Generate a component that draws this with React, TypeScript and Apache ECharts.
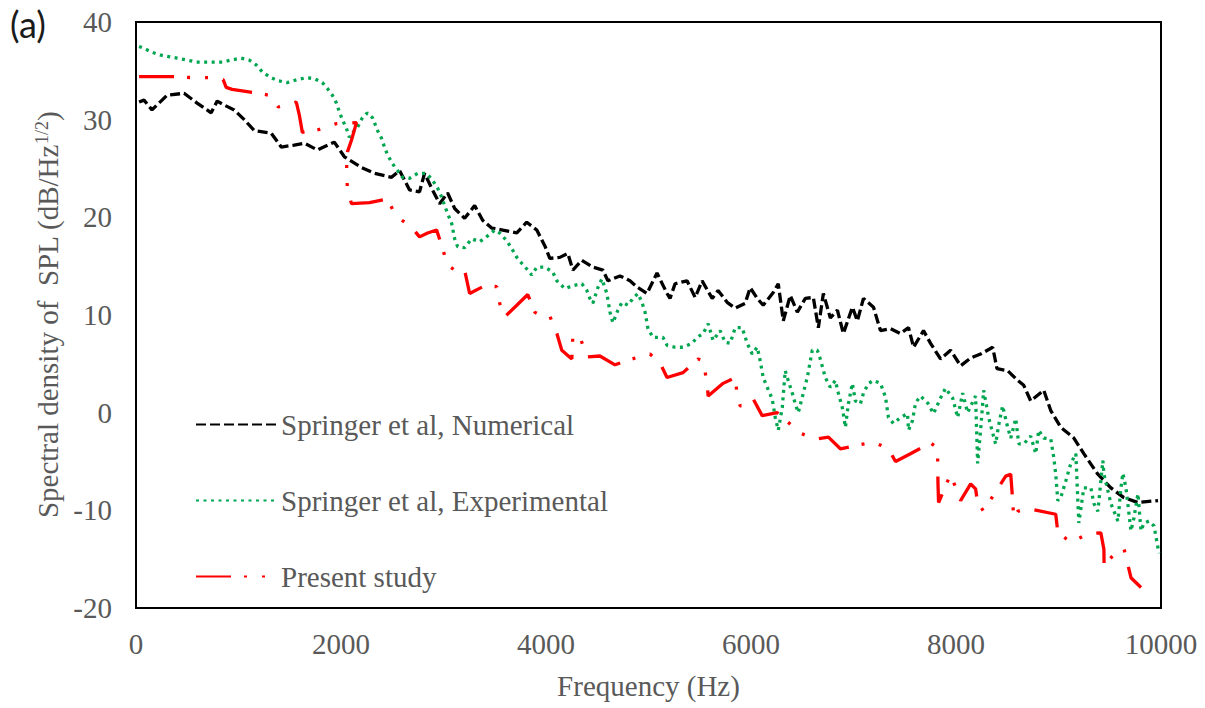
import React, { useEffect, useRef } from "react";
import * as echarts from "echarts";

// Frequency (Hz), SPL spectral density (dB/Hz^1/2)
const numerical: [number, number][] = [
  [30, 31.8], [78, 32.0], [156, 31.0], [303, 32.5], [469, 32.7], [596, 31.7], [733, 30.7], [792, 31.9],
  [860, 31.5], [958, 31.0], [1056, 30.0], [1153, 28.9], [1320, 28.6], [1417, 27.2], [1544, 27.4],
  [1642, 27.6], [1769, 26.9], [1935, 27.7], [2033, 26.2], [2199, 25.1], [2326, 24.5], [2493, 24.1],
  [2571, 24.8], [2669, 22.8], [2766, 22.6], [2815, 24.5], [2893, 22.8], [2962, 21.4], [3040, 22.5],
  [3109, 20.9], [3206, 19.9], [3304, 21.2], [3382, 19.7], [3470, 18.9], [3578, 18.7], [3715, 18.4],
  [3812, 19.5], [3910, 18.7], [3988, 17.1], [4037, 15.8], [4135, 15.9], [4213, 16.3], [4262, 14.6],
  [4350, 15.6], [4457, 14.9], [4555, 14.6], [4604, 13.5], [4721, 14.0], [4819, 13.5], [4897, 12.8],
  [4985, 12.2], [5083, 14.3], [5181, 12.2], [5210, 11.7], [5259, 13.2], [5376, 13.5], [5455, 11.8],
  [5523, 13.5], [5621, 11.7], [5679, 12.5], [5767, 11.3], [5846, 10.7], [5943, 11.2], [5992, 12.8],
  [6061, 11.7], [6119, 11.0], [6217, 12.3], [6266, 13.2], [6315, 9.4], [6383, 12.0], [6452, 10.3],
  [6530, 11.7], [6608, 11.8], [6657, 8.7], [6706, 12.2], [6774, 9.7], [6843, 10.5], [6901, 8.1],
  [6989, 10.8], [7038, 9.4], [7097, 11.7], [7195, 10.8], [7263, 8.4], [7361, 8.6], [7458, 8.1],
  [7537, 8.7], [7586, 6.7], [7683, 8.4], [7752, 7.1], [7849, 5.5], [7947, 6.4], [8045, 4.8],
  [8143, 5.6], [8240, 6.0], [8358, 6.7], [8400, 4.5], [8504, 4.3], [8602, 3.3], [8661, 2.8],
  [8729, 1.2], [8856, 2.3], [8925, 0.2], [9022, -1.5], [9150, -2.6], [9247, -4.2], [9384, -6.3],
  [9511, -7.7], [9638, -8.7], [9775, -9.2], [9971, -9.0],
];

const experimental: [number, number][] = [
  [30, 37.5], [78, 37.3], [156, 36.9], [244, 36.6], [342, 36.4], [401, 36.3], [499, 36.1], [587, 35.9],
  [665, 35.9], [762, 35.9], [841, 35.9], [929, 36.1], [1026, 36.3], [1105, 36.1], [1173, 35.6],
  [1232, 34.9], [1300, 34.4], [1378, 34.0], [1476, 33.8], [1574, 34.1], [1662, 34.3], [1740, 34.2],
  [1818, 33.8], [1867, 33.2], [1916, 32.5], [1955, 31.7], [1984, 30.8], [2014, 30.0], [2053, 29.1],
  [2082, 28.2], [2131, 28.9], [2160, 29.2], [2209, 30.2], [2258, 30.7], [2307, 30.2], [2356, 28.9],
  [2395, 28.1], [2424, 27.2], [2454, 26.4], [2502, 25.5], [2551, 24.8], [2600, 24.1], [2669, 24.0],
  [2747, 24.5], [2835, 24.5], [2893, 23.8], [2942, 23.0], [2981, 22.1], [3011, 21.2], [3040, 20.4],
  [3079, 19.4], [3109, 17.8], [3138, 17.0], [3206, 16.9], [3275, 17.8], [3353, 17.5], [3431, 18.1],
  [3500, 18.7], [3548, 18.4], [3617, 17.6], [3666, 16.8], [3715, 15.9], [3763, 15.3], [3822, 14.6],
  [3861, 14.1], [3910, 14.9], [3988, 14.9], [4066, 14.4], [4106, 13.5], [4184, 12.7], [4262, 13.0],
  [4350, 13.2], [4399, 12.5], [4428, 11.7], [4457, 11.2], [4506, 12.8], [4545, 13.7], [4594, 12.2],
  [4624, 10.3], [4653, 9.2], [4702, 10.5], [4741, 11.3], [4800, 11.0], [4848, 11.7], [4897, 12.2],
  [4936, 11.3], [4966, 10.3], [4995, 8.6], [5044, 7.7], [5142, 7.7], [5181, 6.9], [5259, 6.7],
  [5337, 6.7], [5425, 7.1], [5474, 7.7], [5533, 8.1], [5582, 9.1], [5630, 7.4], [5699, 8.4],
  [5748, 7.2], [5797, 7.1], [5846, 8.7], [5914, 8.7], [5963, 7.1], [6012, 6.0], [6061, 6.7],
  [6090, 5.3], [6119, 3.6], [6158, 2.6], [6207, 1.4], [6237, -0.5], [6266, -1.8], [6305, 0.5],
  [6334, 4.3], [6354, 3.6], [6403, 2.0], [6432, 0.9], [6461, 0.0], [6510, 2.0], [6549, 3.6],
  [6598, 6.4], [6647, 6.4], [6676, 5.5], [6725, 3.6], [6774, 2.6], [6823, 3.3], [6852, 2.0],
  [6891, 0.5], [6921, -1.5], [6950, 0.9], [6989, 3.0], [7018, 1.2], [7067, 0.9], [7097, 2.0],
  [7146, 3.0], [7195, 3.3], [7263, 3.0], [7312, 1.6], [7341, -0.5], [7390, -1.1], [7458, -0.5],
  [7527, -0.1], [7537, -1.8], [7576, -0.8], [7605, 1.0], [7654, 1.7], [7723, 1.0], [7781, -0.1],
  [7849, 1.5], [7898, 2.5], [7967, 1.5], [8016, -0.5], [8065, 2.0], [8113, 0.0], [8191, 1.7],
  [8211, -5.2], [8240, -1.8], [8270, 2.3], [8289, 1.2], [8319, -0.5], [8358, -2.1], [8387, -3.2],
  [8416, -1.3], [8455, 0.7], [8504, -1.5], [8534, -2.6], [8583, -0.6], [8612, -3.2], [8661, -3.2],
  [8729, -2.4], [8778, -4.2], [8807, -1.8], [8856, -2.6], [8925, -2.7], [8954, -4.6], [8973, -6.3],
  [8993, -9.0], [9022, -8.7], [9071, -7.0], [9120, -5.2], [9169, -4.2], [9198, -11.3], [9247, -7.7],
  [9316, -7.7], [9345, -9.3], [9384, -10.1], [9433, -4.9], [9443, -6.3], [9482, -8.0], [9511, -9.3],
  [9580, -11.1], [9609, -7.7], [9628, -6.2], [9658, -7.7], [9707, -12.1], [9736, -10.8], [9775, -8.3],
  [9805, -12.1], [9834, -11.3], [9883, -11.1], [9932, -11.6], [9980, -14.4],
];

const present: [number, number][] = [
  [30, 34.4], [401, 34.4], [557, 34.3], [723, 34.3], [850, 34.1], [880, 33.3], [938, 33.1],
  [1134, 32.8], [1300, 32.5], [1388, 31.3], [1564, 31.8], [1593, 30.5], [1623, 28.7], [1789, 29.0],
  [1955, 29.6], [2151, 29.7], [2102, 27.9], [2063, 26.7], [2053, 24.7], [2063, 22.9], [2102, 21.4],
  [2278, 21.5], [2454, 21.9], [2522, 20.4], [2581, 19.8], [2688, 19.0], [2766, 18.0], [2845, 18.4],
  [2933, 18.7], [2991, 16.8], [3040, 15.1], [3138, 14.4], [3206, 14.6], [3255, 12.2], [3402, 13.0],
  [3519, 12.9], [3548, 11.2], [3597, 9.8], [3715, 11.0], [3822, 12.1], [3890, 10.3], [3969, 9.8],
  [4037, 9.9], [4106, 8.1], [4154, 6.4], [4252, 5.5], [4262, 7.9], [4330, 7.8], [4399, 5.7],
  [4526, 5.8], [4673, 4.9], [4839, 5.5], [5015, 6.0], [5112, 5.1], [5181, 3.6], [5337, 4.1],
  [5484, 5.5], [5533, 5.3], [5572, 3.0], [5582, 1.7], [5728, 3.0], [5846, 3.6], [5865, 1.8],
  [5894, 0.7], [5943, 0.7], [6022, 1.4], [6109, -0.3], [6256, 0.0], [6481, -2.1], [6628, -2.7],
  [6755, -2.5], [6872, -3.7], [7195, -3.0], [7341, -3.7], [7410, -5.0], [7556, -4.2], [7752, -3.1],
  [7820, -3.6], [7824, -7.2], [7830, -9.2], [7947, -6.3], [8045, -9.0], [8143, -7.3], [8191, -7.8],
  [8211, -9.2], [8270, -10.1], [8368, -8.4], [8485, -6.5], [8534, -6.3], [8553, -9.0], [8563, -10.8],
  [8602, -10.1], [8700, -9.8], [8973, -10.4], [8993, -12.2], [9120, -13.3], [9286, -12.4],
  [9413, -12.3], [9443, -14.0], [9445, -15.7], [9541, -14.5], [9638, -13.9], [9707, -16.9],
  [9805, -17.9],
];

const seriesNames = [
  "Springer et al, Numerical",
  "Springer et al, Experimental",
  "Present study",
];

const xTicks = { min: 0, max: 10000, interval: 2000 };
const yTicks = { min: -20, max: 40, interval: 10 };

const SERIF = "Liberation Serif";
const GREY = "#595959";

export default function App() {
  const ref = useRef<HTMLDivElement>(null);

  useEffect(() => {
    if (!ref.current) return;
    const chart = echarts.init(ref.current, undefined, { renderer: "svg" });
    const labelStyle = {
      fontFamily: SERIF,
      fontSize: 29,
      color: GREY,
      formatter: (v: number) => String(v),
    };
    chart.setOption({
      animation: false,
      backgroundColor: "#ffffff",
      textStyle: { fontFamily: SERIF, color: GREY },
      grid: {
        left: 136,
        right: 44,
        top: 22,
        bottom: 100,
        show: true,
        borderColor: "#000000",
        borderWidth: 2,
      },
      legend: {
        orient: "vertical",
        left: 195,
        top: 410,
        padding: 0,
        itemWidth: 80,
        itemHeight: 20,
        itemGap: 47,
        data: seriesNames,
        itemStyle: { opacity: 0 },
        textStyle: { fontFamily: SERIF, fontSize: 29, color: GREY },
      },
      xAxis: {
        type: "value",
        ...xTicks,
        axisLine: { show: false },
        axisTick: { show: false },
        splitLine: { show: false },
        axisLabel: { ...labelStyle, margin: 21 },
        name: "Frequency (Hz)",
        nameLocation: "middle",
        nameGap: 63,
        nameTextStyle: { fontFamily: SERIF, fontSize: 29, color: GREY },
      },
      yAxis: {
        type: "value",
        ...yTicks,
        axisLine: { show: false },
        axisTick: { show: false },
        splitLine: { show: false },
        axisLabel: { ...labelStyle, margin: 24 },
        name: "Spectral density of  SPL (dB/Hz{sup|1/2})",
        nameLocation: "middle",
        nameGap: 73,
        nameTextStyle: {
          fontFamily: SERIF,
          fontSize: 29,
          color: GREY,
          rich: {
            sup: { fontFamily: SERIF, fontSize: 18, color: GREY, verticalAlign: "top" },
          },
        },
      },
      graphic: [
        {
          type: "text",
          left: 10,
          top: 6,
          style: { text: "(a)", fontFamily: "Lato", fontSize: 36, fill: "#1a1a1a" },
        },
      ],
      series: [
        {
          name: seriesNames[0],
          type: "line",
          data: numerical,
          symbol: "none",
          lineStyle: { color: "#000000", width: 3.3, type: [10, 4], cap: "butt" },
          itemStyle: { color: "#000000" },
        },
        {
          name: seriesNames[1],
          type: "line",
          data: experimental,
          symbol: "none",
          lineStyle: { color: "#00A550", width: 3.3, type: [3, 4.5], cap: "butt" },
          itemStyle: { color: "#00A550" },
        },
        {
          name: seriesNames[2],
          type: "line",
          data: present,
          symbol: "none",
          lineStyle: { color: "#FF0000", width: 3.3, type: [35, 13, 3, 15, 3, 15], cap: "butt" },
          itemStyle: { color: "#FF0000" },
        },
      ],
    });
    return () => chart.dispose();
  }, []);

  return (
    <div
      ref={ref}
      style={{ position: "fixed", left: 0, top: 0, width: 1205, height: 708, background: "#fff" }}
    />
  );
}
